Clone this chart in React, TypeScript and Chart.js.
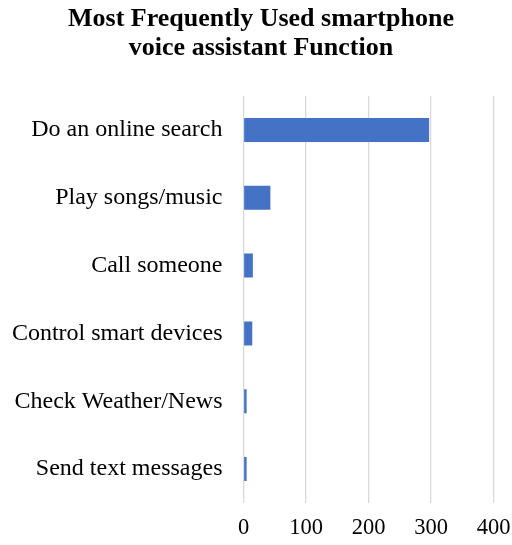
import React, { useEffect, useRef } from "react";
import { Chart, registerables } from "chart.js";

Chart.register(...registerables);

const titleLines = ["Most Frequently Used smartphone", "voice assistant Function"];
const categories = [
  "Do an online search",
  "Play songs/music",
  "Call someone",
  "Control smart devices",
  "Check Weather/News",
  "Send text messages",
];
const values = [297, 43, 15, 14, 5, 5];
const xMin = 0;
const xMax = 400;
const xStep = 100;

const titleShift = {
  id: "titleShift",
  afterLayout(c: any) {
    const t = c.titleBlock;
    if (t) t.left += 10;
  },
};

export default function App() {
  const ref = useRef<HTMLCanvasElement | null>(null);

  useEffect(() => {
    if (!ref.current) return;
    const chart = new Chart(ref.current, {
      type: "bar",
      data: {
        labels: categories,
        datasets: [
          {
            data: values,
            backgroundColor: "#4472c4",
            borderWidth: 0,
            categoryPercentage: 1,
            barPercentage: 0.354,
          },
        ],
      },
      plugins: [titleShift],
      options: {
        indexAxis: "y",
        animation: false,
        responsive: false,
        maintainAspectRatio: false,
        layout: { padding: 0 },
        plugins: {
          legend: { display: false },
          tooltip: { enabled: false },
          title: {
            display: true,
            text: titleLines,
            color: "#000",
            font: { family: "Liberation Serif", size: 26, weight: "bold", lineHeight: 1.1 },
            padding: { top: 5, bottom: 33.8 },
          },
        },
        scales: {
          x: {
            min: xMin,
            max: xMax,
            ticks: {
              stepSize: xStep,
              color: "#000",
              padding: 12,
              font: { family: "Liberation Serif", size: 22.5 },
            },
            grid: { color: "#d9d9d9", lineWidth: 1.3, drawTicks: false },
            border: { display: false },
            afterFit: (s: any) => {
              s.height = 42;
              s.paddingLeft = 0;
              s.paddingRight = 18.5;
            },
          },
          y: {
            ticks: {
              color: "#000",
              padding: 21,
              font: { family: "Liberation Serif", size: 24 },
            },
            grid: { display: false, drawTicks: false },
            border: { display: false },
            afterFit: (s: any) => {
              s.width = 243.5;
            },
          },
        },
      },
    });
    return () => chart.destroy();
  }, []);

  return (
    <div style={{ position: "absolute", left: 0, top: 0, width: 512, height: 545 }}>
      <canvas ref={ref} width={512} height={545} style={{ display: "block" }} />
    </div>
  );
}
